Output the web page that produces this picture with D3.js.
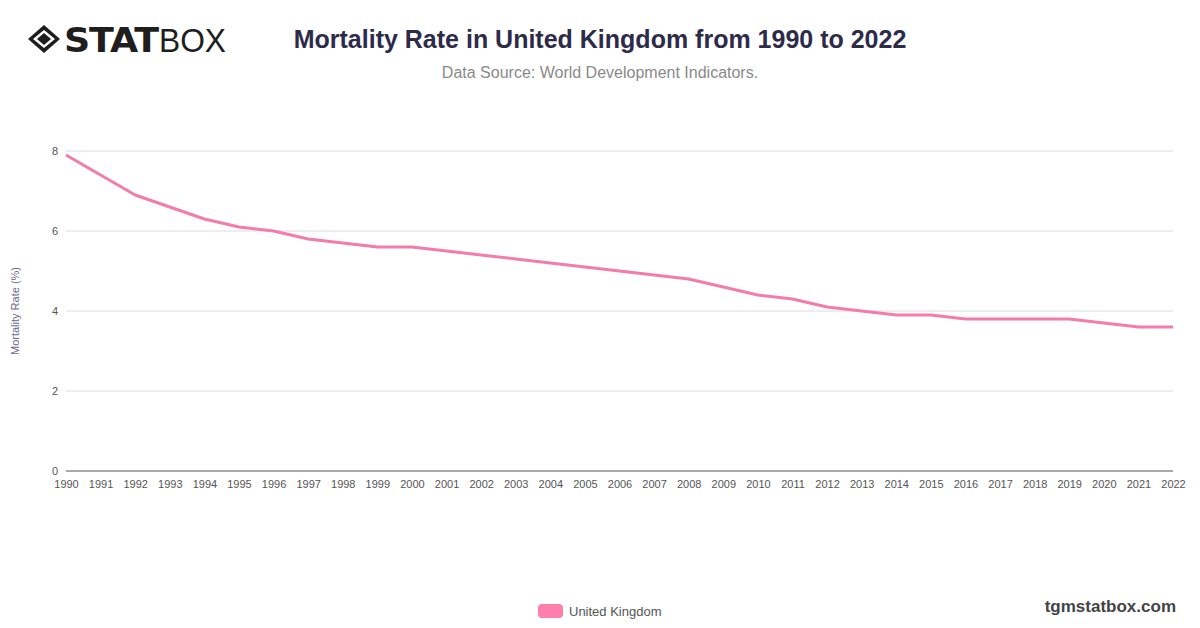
<!DOCTYPE html>
<html><head><meta charset="utf-8">
<script src="https://cdn.jsdelivr.net/npm/d3@7"></script>
<style>body{margin:0;background:#fff;}svg{display:block;font-family:"Helvetica Neue",Helvetica,Arial,"Liberation Sans",sans-serif;}</style>
</head><body>
<svg id="c" width="1200" height="628"></svg>
<script>
const years = d3.range(1990, 2023);
const seriesName = "United Kingdom";
const values = [7.9,7.4,6.9,6.6,6.3,6.1,6.0,5.8,5.7,5.6,5.6,5.5,5.4,5.3,5.2,5.1,5.0,4.9,4.8,4.6,4.4,4.3,4.1,4.0,3.9,3.9,3.8,3.8,3.8,3.8,3.7,3.6,3.6];
const yTicks = [0,2,4,6,8];
const title = "Mortality Rate in United Kingdom from 1990 to 2022";
const subtitle = "Data Source: World Development Indicators.";
const yTitle = "Mortality Rate (%)";

const svg = d3.select("#c");
const m = {l:66, r:1173, t:151, b:471};
const x = d3.scaleLinear().domain([1990,2022]).range([m.l, m.r]);
const y = d3.scaleLinear().domain([0,8]).range([m.b, m.t]);

// logo
const logo = svg.append("g").attr("transform","translate(28,25)");
logo.append("path").attr("d","M16,0 L32,14 L16,28 L0,14 Z M16,5 L27,14 L16,23 L5,14 Z").attr("fill","#1e1e1e").attr("fill-rule","evenodd");
logo.append("path").attr("d","M16,8 L23,14 L16,20 L9,14 Z").attr("fill","#1e1e1e");
logo.append("text").attr("x",36).attr("y",27).attr("font-size",33).attr("font-weight",900).attr("fill","#1e1e1e").attr("font-family","'DejaVu Sans',sans-serif").attr("letter-spacing",-1).attr("textLength",94).attr("lengthAdjust","spacingAndGlyphs").text("STAT");
logo.append("text").attr("x",131).attr("y",27).attr("font-size",33).attr("font-weight",300).attr("fill","#1e1e1e").attr("textLength",67).attr("lengthAdjust","spacingAndGlyphs").text("BOX");

svg.append("text").attr("x",600).attr("y",48).attr("text-anchor","middle").attr("font-size",25).attr("font-weight",700).attr("fill","#2e2b4a").text(title);
svg.append("text").attr("x",600).attr("y",78).attr("text-anchor","middle").attr("font-size",16).attr("fill","#8a8a8a").text(subtitle);

// grid
svg.append("g").selectAll("line").data(yTicks.filter(d=>d>0)).join("line")
  .attr("x1",m.l).attr("x2",m.r).attr("y1",d=>y(d)).attr("y2",d=>y(d)).attr("stroke","#dcdcdc").attr("stroke-width",1);
svg.append("line").attr("x1",m.l).attr("x2",m.r).attr("y1",y(0)).attr("y2",y(0)).attr("stroke","#555").attr("stroke-width",1);

const ya = svg.append("g").attr("transform",`translate(${m.l},0)`).call(d3.axisLeft(y).tickValues(yTicks).tickSize(0).tickPadding(8));
ya.select(".domain").remove();
ya.selectAll("text").attr("font-size",11).attr("fill","#555").attr("font-family","inherit");

const xa = svg.append("g").attr("transform",`translate(0,${m.b})`).call(d3.axisBottom(x).tickValues(years).tickFormat(d3.format("d")).tickSize(0).tickPadding(9));
xa.select(".domain").remove();
xa.selectAll("text").attr("font-size",11).attr("fill","#555").attr("font-family","inherit");

svg.append("text").attr("transform",`translate(19,311) rotate(-90)`).attr("text-anchor","middle").attr("font-size",11).attr("fill","#6e6a8a").text(yTitle);

const line = d3.line().x((d,i)=>x(years[i])).y(d=>y(d));
svg.append("path").datum(values).attr("d",line).attr("fill","none").attr("stroke","#f47ca8").attr("stroke-width",3).attr("stroke-linejoin","round");

// legend
svg.append("rect").attr("x",538).attr("y",604).attr("width",25).attr("height",14).attr("rx",4).attr("fill","#ff7eaa");
svg.append("text").attr("x",569).attr("y",615.5).attr("font-size",13).attr("fill","#555").text(seriesName);
svg.append("text").attr("x",1176).attr("y",612).attr("text-anchor","end").attr("font-size",17).attr("font-weight",700).attr("fill","#444").text("tgmstatbox.com");
</script>
</body></html>
